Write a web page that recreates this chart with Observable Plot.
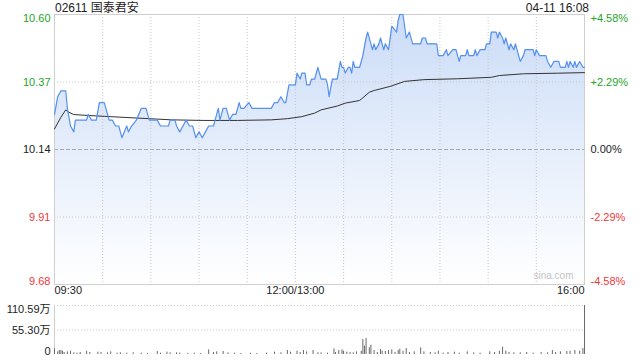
<!DOCTYPE html>
<html>
<head>
<meta charset="utf-8">
<script src="https://cdn.jsdelivr.net/npm/d3@7"></script>
<script src="https://cdn.jsdelivr.net/npm/@observablehq/plot@0.6"></script>
<style>
  html, body { margin: 0; padding: 0; background: #fff; }
  #chart { position: relative; width: 640px; height: 360px; overflow: hidden;
    font-family: "Liberation Sans", Arial, "Noto Sans CJK SC", sans-serif; color: #222; }
  #chart svg { position: absolute; left: 0; }
  .hdr { position: absolute; top: 0; font-size: 12px; line-height: 16px; white-space: nowrap; }
</style>
</head>
<body>
<div id="chart">
  <div class="hdr" id="title" style="left:55px"></div>
  <div class="hdr" id="stamp" style="right:51px"></div>
</div>
<script>
// ---------- data ----------
const stockTitle = "02611 国泰君安";
const timeStamp = "04-11 16:08";
const prevClose = 10.14;

// minutes since 09:30 (trading minutes, 12:00 and 13:00 share minute 150)
const priceMinutes = [0,2,4,7,8,10,12,13,20,21,23,26,28,31,33,34,36,38,40,42,45,46,48,51,54,57,59,64,66,71,72,75,76,78,80,82,84,86,88,90,92,94,96,99,100,102,103,105,107,109,111,113,115,116,118,121,123,135,137,139,141,143,144,146,150,151,153,154,156,157,159,160,162,164,166,169,170,171,173,176,178,179,180,181,183,184,185,186,187,190,192,194,195,197,198,199,200,202,203,205,206,208,209,210,213,214,215,217,218,219,221,223,228,229,231,232,238,239,242,244,245,248,250,251,252,253,256,257,258,261,262,263,265,268,269,271,272,275,276,277,279,280,281,283,284,286,287,288,290,292,293,298,299,300,302,306,307,309,311,314,315,318,319,320,321,323,324,325,327,329,330];
const priceValues  = [10.26,10.32,10.34,10.34,10.28,10.22,10.20,10.24,10.24,10.26,10.24,10.24,10.30,10.30,10.26,10.24,10.24,10.22,10.22,10.18,10.22,10.20,10.22,10.24,10.28,10.28,10.24,10.24,10.22,10.22,10.24,10.24,10.22,10.20,10.22,10.24,10.22,10.22,10.18,10.20,10.18,10.20,10.22,10.22,10.24,10.28,10.24,10.28,10.28,10.24,10.26,10.26,10.30,10.28,10.28,10.30,10.28,10.28,10.30,10.30,10.32,10.30,10.30,10.36,10.36,10.40,10.38,10.40,10.40,10.36,10.36,10.38,10.38,10.42,10.38,10.38,10.36,10.32,10.38,10.38,10.44,10.42,10.42,10.40,10.42,10.42,10.40,10.44,10.42,10.42,10.46,10.52,10.54,10.50,10.48,10.50,10.48,10.50,10.52,10.48,10.50,10.48,10.52,10.56,10.54,10.58,10.60,10.60,10.56,10.52,10.54,10.50,10.50,10.52,10.52,10.50,10.50,10.46,10.46,10.48,10.46,10.48,10.48,10.46,10.44,10.46,10.46,10.48,10.46,10.46,10.48,10.46,10.48,10.48,10.50,10.50,10.54,10.54,10.52,10.54,10.52,10.50,10.52,10.48,10.50,10.48,10.50,10.48,10.44,10.46,10.48,10.48,10.46,10.48,10.46,10.46,10.44,10.42,10.44,10.44,10.42,10.42,10.44,10.42,10.44,10.42,10.44,10.42,10.44,10.42,10.42];

const avgMinutes = [0,4,7,9,12,21,31,52,73,93,114,135,145,154,162,166,176,181,190,196,199,209,218,230,251,272,277,292,313,330];
const avgValues  = [10.21,10.25,10.275,10.267,10.259,10.256,10.253,10.247,10.241,10.239,10.239,10.241,10.245,10.252,10.264,10.275,10.288,10.298,10.307,10.335,10.341,10.355,10.372,10.378,10.381,10.386,10.392,10.398,10.400,10.402];

// volume in 万 shares
const volMinutes = [0,2,3,4,5,6,8,10,12,14,16,20,22,27,29,33,35,39,41,45,49,54,58,64,66,70,72,76,78,83,87,91,96,99,101,105,108,112,116,122,126,132,137,141,145,147,151,153,155,157,161,164,166,170,174,175,177,179,180,182,184,186,188,191,192,193,194,196,197,199,201,203,204,206,208,210,212,214,215,217,219,221,224,228,230,234,237,239,242,245,249,252,257,261,265,271,274,277,279,281,283,286,290,294,298,303,307,310,312,315,319,321,324,327,329,330];
const volValues  = [12.8,6,9,9,7.5,4.5,6,7.5,3.8,3,4.5,7.5,4.5,5.3,4.5,3.8,6,3,3.8,3,3.8,3,2.3,6.8,3,5.3,3.8,3.8,3,2.3,3,2.3,10.5,4.5,6,6.8,3.8,3,2.3,3,2.3,3,5.3,3.8,9,5.3,7.5,4.5,9,6,9,3.8,3.8,3,12.8,4.5,9,10.5,7.5,5.3,4.5,3.8,6,7.5,33.8,18.8,36,15,21,9,4.5,11.3,7.5,6.8,9,10.5,4.5,9,12,7.5,13.5,4.5,6,15,6,4.5,3.8,7.5,3,4.5,5.3,3,6,3.8,3,6,4.5,7.5,16.5,7.5,4.5,3.8,3.8,4.5,3,4.5,3.8,9,4.5,6,6.8,7.5,9,7.5,13.5,110.59];

const leftTickValues  = [10.60, 10.37, 10.14, 9.91, 9.68];
const leftTickLabels  = ["10.60", "10.37", "10.14", "9.91", "9.68"];
const rightTickLabels = ["+4.58%", "+2.29%", "0.00%", "-2.29%", "-4.58%"];
const xTickMinutes = [0, 150, 330];
const xTickLabels  = ["09:30", "12:00/13:00", "16:00"];
const gridMinutes  = [30, 60, 90, 120, 150, 180, 210, 240, 270, 300];
const volTickValues = [110.59, 55.30, 0];
const volTickLabels = ["110.59万", "55.30万", "0"];
const watermark = "sina.com";

// ---------- build ----------
const priceData = priceMinutes.map((m, i) => ({m, p: priceValues[i]}));
const avgData = avgMinutes.map((m, i) => ({m, p: avgValues[i]}));
const volData = volMinutes.map((m, i) => ({m, v: volValues[i]}));
const yTicks = leftTickValues.map((v, i) => ({v, l: leftTickLabels[i], r: rightTickLabels[i]}));
const xTicks = xTickMinutes.map((m, i) => ({m, l: xTickLabels[i]}));
const vTicks = volTickValues.map((v, i) => ({v, l: volTickLabels[i]}));

const GREEN = "#1fa51f", RED = "#f03a3a", BLACK = "#222";
const tickColor = d => d.v > prevClose + 1e-9 ? GREEN : d.v < prevClose - 1e-9 ? RED : BLACK;
const FONT = '"Liberation Sans", Arial, "Noto Sans CJK SC", sans-serif';

document.getElementById("title").textContent = stockTitle;
document.getElementById("stamp").textContent = timeStamp;

const gradientDefs = () => {
  const defs = d3.create("svg:defs");
  const g = defs.append("linearGradient").attr("id", "areaGrad")
    .attr("x1", 0).attr("y1", 0).attr("x2", 0).attr("y2", 1);
  g.append("stop").attr("offset", "0%").attr("stop-color", "#cbdcf7");
  g.append("stop").attr("offset", "100%").attr("stop-color", "#ffffff");
  return defs.node();
};

function yLabelMarks(data, anchor) {
  return [
    Plot.text(data, {y: "v", text: "l", frameAnchor: "left", dx: -4, textAnchor: "end",
      lineAnchor: anchor, fill: tickColor, fontSize: 11}),
    Plot.text(data, {y: "v", text: "r", frameAnchor: "right", dx: 6, textAnchor: "start",
      lineAnchor: anchor, fill: tickColor, fontSize: 11})
  ];
}

const main = Plot.plot({
  width: 640, height: 300,
  marginTop: 14, marginBottom: 16, marginLeft: 54, marginRight: 56,
  x: {domain: [0, 330], axis: null},
  y: {domain: [9.68, 10.60], axis: null},
  color: {type: "identity"},
  style: {fontFamily: FONT, fontSize: "11px", background: "transparent", overflow: "visible"},
  marks: [
    gradientDefs,
    Plot.areaY(priceData, {x: "m", y1: 9.68, y2: "p", fill: "url(#areaGrad)"}),
    Plot.ruleX(gridMinutes, {stroke: "#c8c8c8", strokeDasharray: "1,2"}),
    Plot.ruleY([10.37, 9.91], {stroke: "#c8c8c8", strokeDasharray: "1,2"}),
    Plot.ruleY([prevClose], {stroke: "#a8a8a8", strokeDasharray: "4,2"}),
    Plot.frame({stroke: "#cfcfcf"}),
    Plot.line(avgData, {x: "m", y: "p", stroke: "#333", strokeWidth: 1}),
    Plot.line(priceData, {x: "m", y: "p", stroke: "#5591f0", strokeWidth: 1.2}),
    ...yLabelMarks(yTicks.slice(0, 1), "top"),
    ...yLabelMarks(yTicks.slice(1, -1), "middle"),
    ...yLabelMarks(yTicks.slice(-1), "bottom"),
    Plot.text(xTicks.slice(0, 1), {x: "m", text: "l", frameAnchor: "bottom", dy: 9, textAnchor: "start", fill: BLACK, fontSize: 11}),
    Plot.text(xTicks.slice(1, 2), {x: "m", text: "l", frameAnchor: "bottom", dy: 9, textAnchor: "middle", fill: BLACK, fontSize: 11}),
    Plot.text(xTicks.slice(2), {x: "m", text: "l", frameAnchor: "bottom", dy: 9, textAnchor: "end", fill: BLACK, fontSize: 11}),
    Plot.text([watermark], {frameAnchor: "bottom-right", dx: -11, dy: -6, textAnchor: "end", fill: "#c4c4c4", fontSize: 10})
  ]
});
main.style.top = "0px";
document.getElementById("chart").appendChild(main);

const vol = Plot.plot({
  width: 640, height: 60,
  marginTop: 7, marginBottom: 4, marginLeft: 54, marginRight: 56,
  x: {domain: [0, 330], axis: null},
  y: {domain: [0, 110.59], axis: null},
  style: {fontFamily: FONT, fontSize: "11px", background: "transparent", overflow: "visible"},
  marks: [
    Plot.ruleY([110.59, 55.30], {stroke: "#c8c8c8", strokeDasharray: "1,2"}),
    Plot.ruleX([0], {stroke: "#cfcfcf"}),
    Plot.ruleX(volData, {x: "m", y1: 0, y2: "v", stroke: "#6a6a6a"}),
    Plot.text(vTicks.slice(0, 1), {y: "v", text: "l", frameAnchor: "left", dx: -4, textAnchor: "end", lineAnchor: "top", fill: BLACK}),
    Plot.text(vTicks.slice(1, 2), {y: "v", text: "l", frameAnchor: "left", dx: -4, textAnchor: "end", lineAnchor: "middle", fill: BLACK}),
    Plot.text(vTicks.slice(2), {y: "v", text: "l", frameAnchor: "left", dx: -4, textAnchor: "end", lineAnchor: "bottom", fill: BLACK})
  ]
});
vol.style.top = "298px";
document.getElementById("chart").appendChild(vol);
</script>
</body>
</html>
